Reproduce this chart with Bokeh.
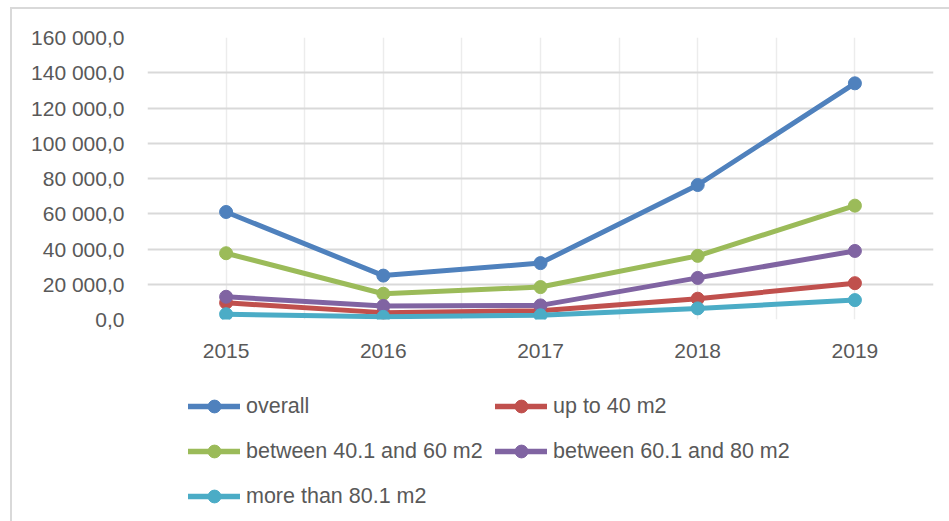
from bokeh.plotting import figure
from bokeh.models import FixedTicker, Range1d, Legend, LegendItem, Spacer, Column, Row
from bokeh.embed import file_html
from bokeh.resources import INLINE

years = ["2015", "2016", "2017", "2018", "2019"]
overall = [61000, 24900, 32000, 76300, 134000]
up_to_40 = [9500, 3900, 5000, 11800, 20600]
between_40_60 = [37600, 14600, 18400, 36100, 64600]
between_60_80 = [12900, 7700, 8000, 23600, 38900]
more_than_80 = [3000, 1500, 2400, 6300, 11000]

series_names = ["overall", "up to 40 m2", "between 40.1 and 60 m2",
                "between 60.1 and 80 m2", "more than 80.1 m2"]
series_values = [overall, up_to_40, between_40_60, between_60_80, more_than_80]
colors = ["#4f81bd", "#c0504d", "#9bbb59", "#8064a2", "#4bacc6"]

y_ticks = [0, 20000, 40000, 60000, 80000, 100000, 120000, 140000, 160000]
y_tick_labels = ["0,0", "20 000,0", "40 000,0", "60 000,0", "80 000,0",
                 "100 000,0", "120 000,0", "140 000,0", "160 000,0"]

x_vals = [int(y) for y in years]
TXT = "#595959"
GRID = "#d9d9d9"

# ---------------- chart ----------------
p = figure(width=937, height=351, output_backend="svg", toolbar_location=None,
           x_range=Range1d(x_vals[0] - 0.5, x_vals[-1] + 0.5),
           y_range=Range1d(y_ticks[0], y_ticks[-1]),
           min_border_left=135, min_border_right=16,
           min_border_top=28, min_border_bottom=38)
p.outline_line_color = None
p.background_fill_color = "white"
p.border_fill_color = "white"

p.xaxis.ticker = FixedTicker(ticks=x_vals)
p.xaxis.major_label_overrides = {xv: lab for xv, lab in zip(x_vals, years)}
p.yaxis.ticker = FixedTicker(ticks=y_ticks)
p.yaxis.major_label_overrides = {t: lab for t, lab in zip(y_ticks, y_tick_labels)}

for ax in (p.xaxis[0], p.yaxis[0]):
    ax.axis_line_color = None
    ax.major_tick_line_color = None
    ax.minor_tick_line_color = None
    ax.major_tick_out = 0
    ax.major_tick_in = 0
    ax.major_label_text_font = "Liberation Sans"
    ax.major_label_text_font_size = "21px"
    ax.major_label_text_color = TXT
p.yaxis.major_label_standoff = 23
p.xaxis.major_label_standoff = 24

p.xgrid.ticker = FixedTicker(ticks=[x_vals[0] - 0.5 + 0.5 * i for i in range(11)])
p.xgrid.grid_line_color = "#ececec"
p.xgrid.grid_line_width = 1.5
p.ygrid.ticker = FixedTicker(ticks=y_ticks)
p.ygrid.grid_line_color = GRID
p.ygrid.grid_line_width = 2

for name, vals, c in zip(series_names, series_values, colors):
    p.line(x_vals, vals, line_color=c, line_width=5, line_cap="round", line_join="round")
    p.scatter(x_vals, vals, size=13, fill_color=c, line_color=c)

# ---------------- legend area ----------------
lf = figure(width=937, height=161, output_backend="svg", toolbar_location=None,
            x_range=Range1d(x_vals[0] - 0.5, x_vals[-1] + 0.5),
            y_range=Range1d(-2, -1),
            x_axis_location=None, y_axis_location=None,
            min_border=0)
lf.outline_line_color = None
lf.grid.visible = False
lf.background_fill_color = "white"
lf.border_fill_color = "white"

items = []
for name, vals, c in zip(series_names, series_values, colors):
    r1 = lf.line(x_vals, vals, line_color=c, line_width=5.5, line_cap="round")
    r2 = lf.scatter(x_vals, vals, size=13, fill_color=c, line_color=c)
    items.append(LegendItem(label=name, renderers=[r1, r2]))

def make_legend(its, x, y):
    return Legend(items=its, location=(x, y), orientation="vertical",
                  glyph_width=52, glyph_height=32, label_height=32, spacing=13,
                  label_standoff=6, padding=0, margin=0,
                  border_line_color=None, background_fill_alpha=0,
                  label_text_font="Liberation Sans",
                  label_text_font_size="21.5px", label_text_color=TXT)

lf.add_layout(make_legend([items[0], items[2], items[4]], 41, 9))
lf.add_layout(make_legend([items[1], items[3]], 348, 54))

box = Column(children=[p, lf], spacing=0,
             styles={"border-left": "2px solid #d9d9d9", "border-top": "2px solid #d9d9d9"})
root = Column(children=[Spacer(width=949, height=7),
                        Row(children=[Spacer(width=10, height=10), box], spacing=0)],
              spacing=0)

open("out.html", "w").write(file_html(root, INLINE))
